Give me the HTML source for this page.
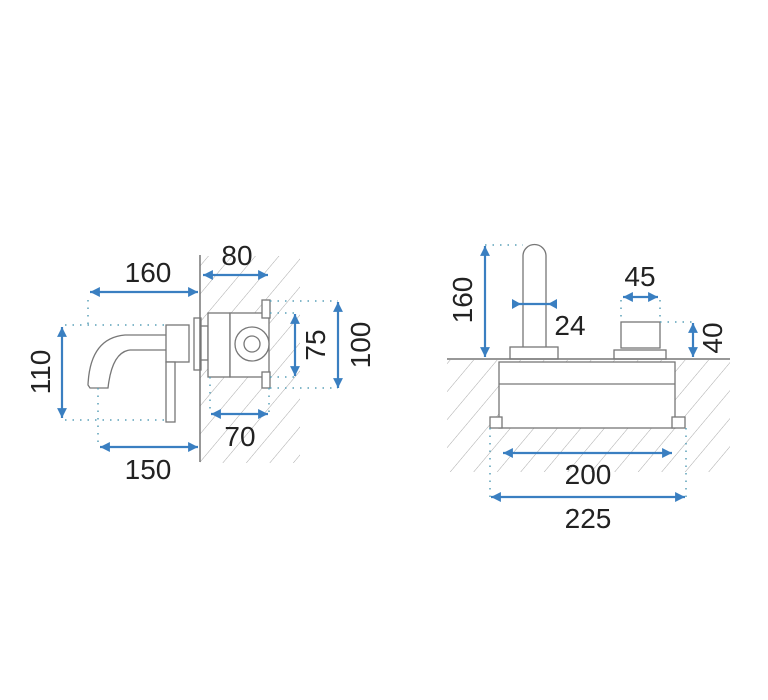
<!DOCTYPE html>
<html><head><meta charset="utf-8"><style>body{margin:0;background:#fff}svg{display:block}text{font-family:"Liberation Sans",sans-serif;font-size:28px;fill:#222}</style></head><body>
<svg width="768" height="700" viewBox="0 0 768 700" xmlns="http://www.w3.org/2000/svg">
<defs>
<marker id="a" viewBox="0 0 10 10" refX="10" refY="5" markerWidth="4.5" markerHeight="4.5" orient="auto-start-reverse"><path d="M0,0L10,5L0,10z" fill="#3a7fc1"/></marker>
<marker id="b" viewBox="0 0 10 10" refX="0" refY="5" markerWidth="4.5" markerHeight="4.5" orient="auto-start-reverse"><path d="M10,0L0,5L10,10z" fill="#3a7fc1"/></marker>
<pattern id="h" width="18" height="18" patternUnits="userSpaceOnUse" patternTransform="rotate(40)"><line x1="0" y1="0" x2="0" y2="18" stroke="#aaa" stroke-width="1"/></pattern>
</defs>
<rect x="200" y="256" width="100" height="207" fill="url(#h)"/>
<rect x="447" y="360" width="283" height="112" fill="url(#h)"/>
<g fill="#fff" stroke="#777" stroke-width="1.3">
<rect x="194" y="318" width="7" height="52"/>
<rect x="201" y="326" width="7" height="34"/>
<rect x="208" y="313" width="22" height="64"/>
<rect x="230" y="313" width="39" height="64"/>
<rect x="262" y="300" width="8" height="18"/>
<rect x="262" y="372" width="8" height="16"/>
<circle cx="252" cy="344" r="17"/><circle cx="252" cy="344" r="8"/>
<path d="M166,335 L125,335 Q90,338 88,385 L90,388 L108,388 Q112,352 130,350 L166,350"/>
<rect x="166" y="325" width="23" height="37"/>
<rect x="166" y="362" width="9" height="60"/>
<rect x="499" y="362" width="176" height="66"/>
<line x1="499" y1="384" x2="675" y2="384"/>
<rect x="490" y="417" width="12" height="11"/>
<rect x="672" y="417" width="13" height="11"/>
<path d="M523,350 L523,256 A11.5,11.5 0 0 1 546,256 L546,350"/>
<rect x="510" y="347" width="48" height="12"/>
<rect x="614" y="350" width="52" height="9"/>
<rect x="621" y="322" width="39" height="26"/>
</g>
<line x1="200" y1="255" x2="200" y2="462" stroke="#777" stroke-width="1.5"/>
<line x1="447" y1="359" x2="730" y2="359" stroke="#777" stroke-width="1.5"/>
<g stroke="#5aa0b8" stroke-width="1.5" stroke-dasharray="1.5 6" fill="none">
<path d="M88,300V325M65,325H165M65,420H165M98,388V445M210,377V414M269,388V414M270,301H338M270,388H338M270,313H295M270,377H295"/>
<path d="M485,245H523M621,300V322M660,300V322M660,322H693M490,428V497M686,428V497"/>
</g>
<g stroke="#3a7fc1" stroke-width="2.2" marker-start="url(#a)" marker-end="url(#a)">
<line x1="90" y1="292" x2="198" y2="292"/>
<line x1="203" y1="275" x2="268" y2="275"/>
<line x1="62" y1="327" x2="62" y2="418"/>
<line x1="100" y1="447" x2="198" y2="447"/>
<line x1="211" y1="414" x2="268" y2="414"/>
<line x1="295" y1="314" x2="295" y2="376"/>
<line x1="338" y1="302" x2="338" y2="388"/>
<line x1="485" y1="246" x2="485" y2="357"/>
<line x1="623" y1="297" x2="658" y2="297"/>
<line x1="693" y1="323" x2="693" y2="357"/>
<line x1="503" y1="453" x2="672" y2="453"/>
<line x1="491" y1="497" x2="685" y2="497"/>
</g>
<line x1="512" y1="304" x2="557" y2="304" stroke="#3a7fc1" stroke-width="2.2"/>
<path d="M512,299L521,304L512,309zM557,299L548,304L557,309z" fill="#3a7fc1"/>
<text x="148" y="282" text-anchor="middle">160</text>
<text x="237" y="265" text-anchor="middle">80</text>
<text x="148" y="479" text-anchor="middle">150</text>
<text x="240" y="446" text-anchor="middle">70</text>
<text transform="translate(50,372) rotate(-90)" text-anchor="middle">110</text>
<text transform="translate(325,345) rotate(-90)" text-anchor="middle">75</text>
<text transform="translate(370,345) rotate(-90)" text-anchor="middle">100</text>
<text transform="translate(472,300) rotate(-90)" text-anchor="middle">160</text>
<text x="570" y="335" text-anchor="middle">24</text>
<text x="640" y="286" text-anchor="middle">45</text>
<text transform="translate(722,338) rotate(-90)" text-anchor="middle">40</text>
<text x="588" y="484" text-anchor="middle">200</text>
<text x="588" y="528" text-anchor="middle">225</text>
</svg>
</body></html>
